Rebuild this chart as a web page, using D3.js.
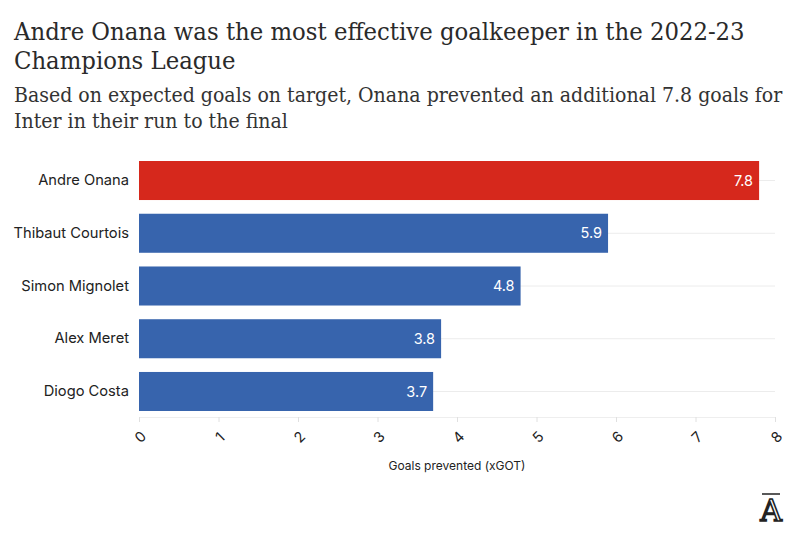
<!DOCTYPE html>
<html><head><meta charset="utf-8">
<script src="https://cdn.jsdelivr.net/npm/d3@7"></script>
<style>body{margin:0;background:#fff}svg{display:block}</style>
</head><body>
<svg id="c" width="800" height="541"></svg>
<script>
const players = ["Andre Onana","Thibaut Courtois","Simon Mignolet","Alex Meret","Diogo Costa"];
const goalsPrevented = [7.8,5.9,4.8,3.8,3.7];
const highlight = ["Andre Onana"];
const xTicks = [0,1,2,3,4,5,6,7,8];
const titleLines = ["Andre Onana was the most effective goalkeeper in the 2022-23","Champions League"];
const subtitleLines = ["Based on expected goals on target, Onana prevented an additional 7.8 goals for","Inter in their run to the final"];
const xAxisTitle = "Goals prevented (xGOT)";

const svg = d3.select("#c");
const serif = "'DejaVu Serif', serif";
const sans = "Inter, 'Noto Sans', sans-serif";

function textBlock(lines, cls, x0, y0, lh, size, color, targetW) {
  const g = svg.append("g");
  const t = g.selectAll("text").data(lines).join("text").attr("class",cls)
    .attr("x",0).attr("y",(d,i)=>i*lh)
    .attr("font-family",serif).attr("font-size",size).attr("fill",color).text(d=>d);
  const w = t.nodes()[0].getComputedTextLength();
  const s = targetW / w;
  g.attr("transform",`translate(${x0},${y0}) scale(${s},1)`);
}
textBlock(titleLines,"title",14,40,29,24.5,"#2a2a2a",731);
textBlock(subtitleLines,"sub",14,102,26,19.5,"#333",769);

const x = d3.scaleLinear().domain([0,8]).range([139,775]);
const y = d3.scaleBand().domain(players).range([161,411]).paddingInner(0.26).paddingOuter(0);

// gridlines
svg.append("g").selectAll("line").data(players).join("line")
  .attr("x1",139).attr("x2",775)
  .attr("y1",d=>y(d)+y.bandwidth()/2).attr("y2",d=>y(d)+y.bandwidth()/2)
  .attr("stroke","#ececec").attr("stroke-width",1);

// y axis labels
const yAxis = d3.axisLeft(y).tickSize(0).tickPadding(10);
svg.append("g").attr("transform","translate(139,0)").call(yAxis)
  .call(g=>g.select(".domain").remove())
  .selectAll("text").attr("font-family",sans).attr("font-size",14.7).attr("fill","#222");

// bars
svg.append("g").selectAll("rect").data(players).join("rect")
  .attr("x",x(0)).attr("y",d=>y(d)).attr("height",y.bandwidth())
  .attr("width",(d,i)=>x(goalsPrevented[i])-x(0))
  .attr("fill",d=>highlight.includes(d)?"#d6281c":"#3764ad");

svg.append("g").selectAll("text").data(players).join("text")
  .attr("x",(d,i)=>x(goalsPrevented[i])-6)
  .attr("y",d=>y(d)+y.bandwidth()/2).attr("dy","0.35em")
  .attr("text-anchor","end").attr("font-family",sans).attr("font-size",14.5).attr("fill","#fff")
  .text((d,i)=>goalsPrevented[i].toFixed(1));

// x axis
const xAxis = d3.axisBottom(x).tickValues(xTicks).tickSize(5).tickFormat(d3.format("d"));
const gx = svg.append("g").attr("transform","translate(0,417)").call(xAxis);
gx.select(".domain").attr("stroke","#eeeeee");
gx.selectAll(".tick line").attr("stroke","#e0e0e0");
gx.selectAll(".tick text").attr("font-family",sans).attr("font-size",14.5).attr("fill","#222")
  .attr("text-anchor","middle").attr("y",0).attr("dy","0.35em")
  .attr("transform","translate(1,20) rotate(-45)");

svg.append("text").attr("x",457).attr("y",470).attr("text-anchor","middle")
  .attr("font-family",sans).attr("font-size",12).attr("fill","#222").text(xAxisTitle);

// logo
svg.append("text").attr("x",771).attr("y",521).attr("text-anchor","middle")
  .attr("font-family","'DejaVu Serif', serif").attr("font-size",30).attr("fill","#fff")
  .attr("stroke","#222").attr("stroke-width",1.6).text("A");
svg.append("line").attr("x1",762).attr("x2",780).attr("y1",494).attr("y2",494).attr("stroke","#222").attr("stroke-width",1.5);
</script>
</body></html>
